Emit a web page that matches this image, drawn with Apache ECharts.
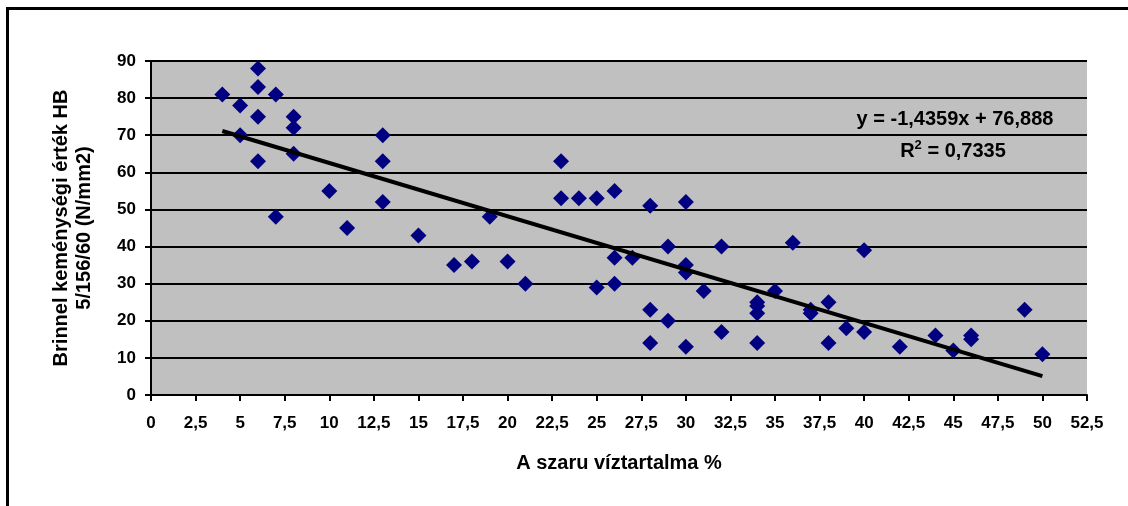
<!DOCTYPE html>
<html>
<head>
<meta charset="utf-8">
<script src="https://cdn.jsdelivr.net/npm/echarts@6/dist/echarts.min.js"></script>
<style>
	html, body { margin: 0; padding: 0; background: #fff; overflow: hidden; }
	#frame { position: absolute; left: 6px; top: 7px; width: 1200px; height: 600px; border: 3px solid #000; }
	#chart { position: absolute; left: 0; top: 0; width: 1128px; height: 506px; }
</style>
</head>
<body>
<div id="frame"></div>
<div id="chart"></div>
<script>
'use strict';

// water content (%) and Brinell hardness pairs
var waterContent = [4, 5, 5, 6, 6, 6, 6, 7, 7, 8, 8, 8, 10, 11, 13, 13, 13, 15, 17, 18,
	19, 20, 21, 23, 23, 24, 25, 25, 26, 26, 26, 27, 28, 28, 28, 29, 29, 30, 30, 30,
	30, 31, 32, 32, 34, 34, 34, 34, 35, 36, 37, 37, 38, 38, 39, 40, 40, 42, 44, 45,
	46, 46, 49, 50];
var hardness = [81, 78, 70, 88, 83, 75, 63, 81, 48, 75, 72, 65, 55, 45, 70, 63, 52, 43, 35, 36,
	48, 36, 30, 63, 53, 53, 53, 29, 55, 37, 30, 37, 51, 23, 14, 40, 20, 52, 35, 33,
	13, 28, 40, 17, 25, 24, 22, 14, 28, 41, 23, 22, 25, 14, 18, 39, 17, 13, 16, 12,
	16, 15, 23, 11];

var trendSlope = -1.4359;
var trendIntercept = 76.888;
var trendEquation = 'y = -1,4359x + 76,888';
var trendR2 = '0,7335';

var points = waterContent.map(function (x, i) { return [x, hardness[i]]; });
var xMin = Math.min.apply(null, waterContent);
var xMax = Math.max.apply(null, waterContent);
var trendLine = [
	[xMin, trendSlope * xMin + trendIntercept],
	[xMax, trendSlope * xMax + trendIntercept]
];

var font = 'Liberation Sans, Arial, sans-serif';

var chart = echarts.init(document.getElementById('chart'));
chart.setOption({
	animation: false,
	textStyle: { fontFamily: font },
	grid: { left: 151, right: 41, top: 61, bottom: 111, show: true, backgroundColor: '#c0c0c0', borderWidth: 0 },
	xAxis: {
		type: 'value',
		min: 0,
		max: 52.5,
		interval: 2.5,
		name: 'A szaru víztartalma %',
		nameLocation: 'middle',
		nameGap: 58,
		nameTextStyle: { fontSize: 20, fontWeight: 'bold', color: '#000', fontFamily: font },
		axisLine: { lineStyle: { color: '#000', width: 2 } },
		axisTick: { show: true, length: 6, lineStyle: { color: '#000', width: 2 } },
		axisLabel: {
			margin: 20,
			fontSize: 17,
			fontWeight: 'bold',
			color: '#000',
			formatter: function (v) { return String(v).replace('.', ','); }
		},
		splitLine: { show: false }
	},
	yAxis: {
		type: 'value',
		min: 0,
		max: 90,
		interval: 10,
		name: 'Brinnel keménységi érték HB\n5/156/60 (N/mm2)',
		nameLocation: 'middle',
		nameGap: 55,
		nameTextStyle: { fontSize: 20, fontWeight: 'bold', color: '#000', lineHeight: 23, fontFamily: font },
		axisLine: { show: true, lineStyle: { color: '#000', width: 2 } },
		axisTick: { show: true, length: 6, lineStyle: { color: '#000', width: 2 } },
		axisLabel: { margin: 15, fontSize: 17, fontWeight: 'bold', color: '#000' },
		splitLine: { show: true, lineStyle: { color: '#000', width: 2 } }
	},
	graphic: [{
		type: 'text',
		x: 955,
		y: 119,
		z: 10,
		style: {
			text: trendEquation,
			align: 'center',
			verticalAlign: 'middle',
			font: 'bold 20px ' + font,
			fill: '#000'
		}
	}, {
		type: 'text',
		x: 953,
		y: 150,
		z: 10,
		style: {
			text: '{b|R}{s|2}{b| = ' + trendR2 + '}',
			align: 'center',
			verticalAlign: 'middle',
			rich: {
				b: { font: 'bold 20px ' + font, fill: '#000', verticalAlign: 'bottom', lineHeight: 22 },
				s: { font: 'bold 13px ' + font, fill: '#000', verticalAlign: 'top', lineHeight: 22 }
			}
		}
	}],
	series: [{
		type: 'scatter',
		symbol: 'diamond',
		symbolSize: 16,
		itemStyle: { color: '#000080', opacity: 1 },
		data: points,
		z: 3
	}, {
		type: 'line',
		data: trendLine,
		symbol: 'none',
		lineStyle: { color: '#000', width: 4 },
		z: 4
	}]
});
</script>
</body>
</html>
